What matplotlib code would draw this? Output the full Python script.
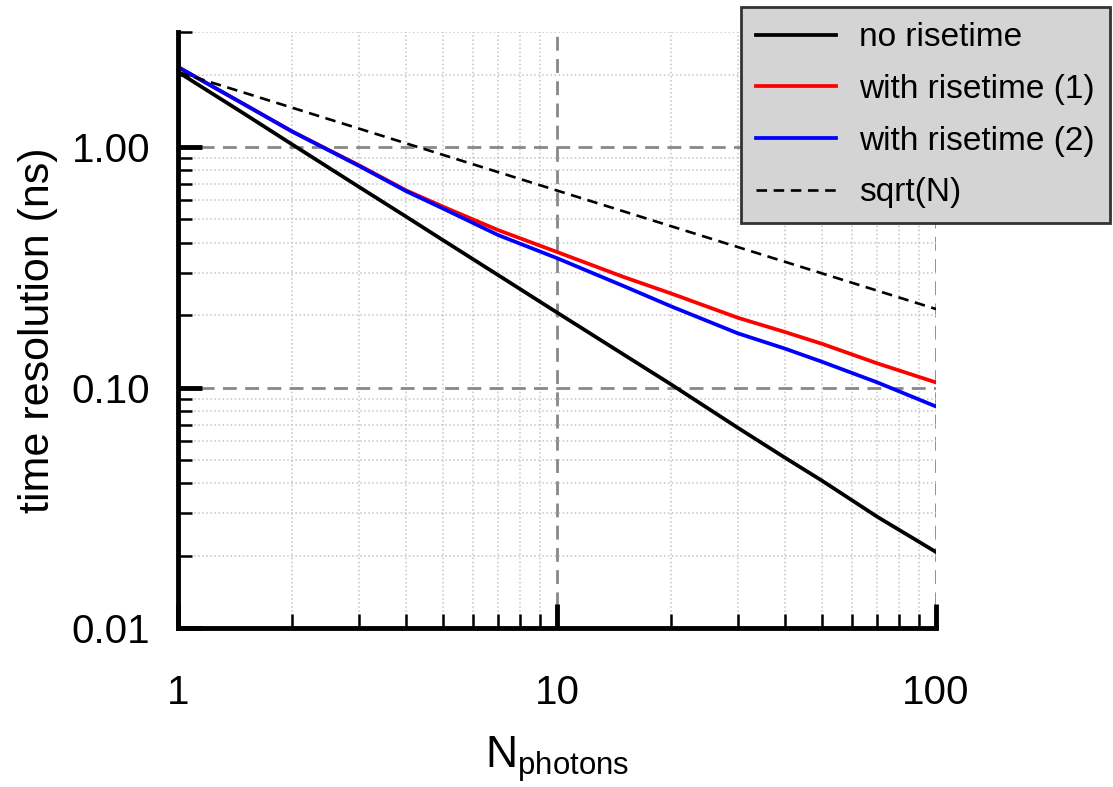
import matplotlib
matplotlib.use("Agg")
import matplotlib.pyplot as plt
from matplotlib.ticker import FixedLocator, LogLocator, NullFormatter

plt.rcParams['font.family'] = ['Liberation Sans', 'DejaVu Sans']
plt.rcParams['mathtext.default'] = 'regular'

# values
n_photons = [1, 1.5, 2, 3, 4, 5, 7, 10, 15, 20, 30, 40, 50, 70, 100]
no_rise = [2.05, 1.37, 1.025, 0.683, 0.513, 0.41, 0.293, 0.205, 0.137,
           0.103, 0.068, 0.051, 0.041, 0.029, 0.0207]
rise_1 = [2.15, 1.50, 1.16, 0.84, 0.66, 0.565, 0.451, 0.366, 0.288,
          0.246, 0.195, 0.17, 0.152, 0.126, 0.105]
rise_2 = [2.15, 1.50, 1.16, 0.835, 0.655, 0.555, 0.43, 0.345, 0.264,
          0.2175, 0.168, 0.145, 0.128, 0.105, 0.0834]
n_sqrt = [1, 100]
sqrt_n = [2.05, 0.212]

fig = plt.figure(figsize=(11.13, 7.87), dpi=100)
ax = fig.add_axes([0.16, 0.202, 0.681, 0.757])

ax.plot(n_photons, no_rise, color='black', lw=2.7, label='no risetime')
ax.plot(n_photons, rise_1, color='red', lw=2.7, label='with risetime (1)')
ax.plot(n_photons, rise_2, color='blue', lw=2.7, label='with risetime (2)')
ax.plot(n_sqrt, sqrt_n, color='black', lw=1.9, ls=(0, (4, 2.5)), label='sqrt(N)')

ax.set_xscale('log')
ax.set_yscale('log')
ax.set_xlim(1, 100)
ax.set_ylim(0.01, 3)

ax.xaxis.set_major_locator(FixedLocator([1, 10, 100]))
ax.set_xticklabels(['1', '10', '100'])
ax.yaxis.set_major_locator(FixedLocator([0.01, 0.1, 1]))
ax.set_yticklabels(['0.01', '0.10', '1.00'])
ax.xaxis.set_minor_locator(LogLocator(base=10, subs=range(2, 10)))
ax.yaxis.set_minor_locator(LogLocator(base=10, subs=range(2, 10)))
ax.xaxis.set_minor_formatter(NullFormatter())
ax.yaxis.set_minor_formatter(NullFormatter())

ax.grid(which='major', color='#888888', ls=(0, (5, 3)), lw=2.0)
ax.grid(which='minor', color='#c4c4c4', ls=':', lw=1.1)
ax.set_axisbelow(True)

for s in ['top', 'right']:
    ax.spines[s].set_visible(False)
for s in ['left', 'bottom']:
    ax.spines[s].set_linewidth(3.5)

ax.tick_params(which='major', direction='in', length=17, width=3.5, labelsize=29)
ax.tick_params(which='minor', direction='in', length=10, width=1.8)
ax.tick_params(axis='x', which='major', pad=33)
ax.tick_params(axis='y', which='major', pad=20)

ax.set_xlabel(r'$N_{photons}$', fontsize=32, labelpad=16)
ax.set_ylabel('time resolution (ns)', fontsize=31, labelpad=10)

leg = fig.legend(loc='upper right', bbox_to_anchor=(1.0, 0.995), fontsize=24,
                 frameon=True, fancybox=False, handlelength=2.4,
                 handletextpad=0.7, labelspacing=0.62, borderpad=0.45,
                 borderaxespad=0.1)
leg.get_frame().set_facecolor('#d4d4d4')
leg.get_frame().set_edgecolor('#333333')
leg.get_frame().set_linewidth(2)
leg.get_frame().set_alpha(1)

fig.savefig('out.png', dpi=100)
